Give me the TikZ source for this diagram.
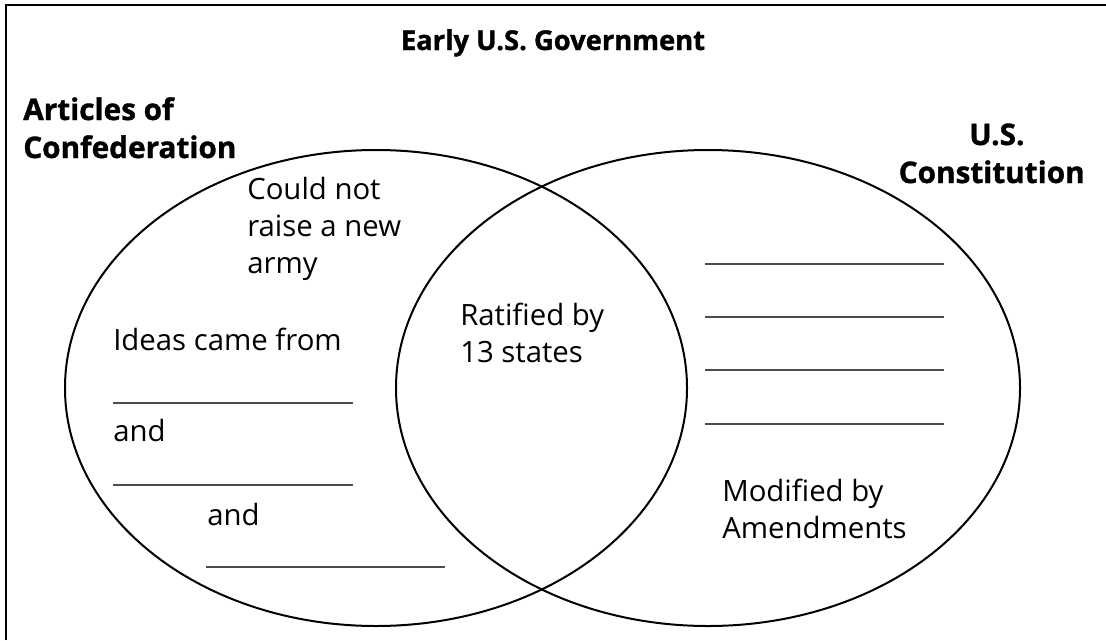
\documentclass[tikz,border=0pt]{standalone}
\usepackage{fontspec}
\setmainfont{Open Sans}
\newfontfamily\headfont{Open Sans}[BoldFeatures={FakeBold=1.2}]
\usetikzlibrary{positioning}

\begin{document}
\begin{tikzpicture}[x=0.75pt,y=-0.75pt,
    txt/.style={font=\fontsize{22}{27.75}\selectfont, inner sep=0pt, align=left, anchor=base west},
    head/.style={font=\fontsize{22.3}{28.5}\selectfont\headfont\bfseries, inner sep=0pt, align=left, anchor=base west},
    blank/.style={black!70, line width=1.5pt}]
    \useasboundingbox (0,0) rectangle (1106,640);

    % Frame
    \draw [line width=2.2pt] (6,640) -- (6,5) -- (1106,5);

    % Circles
    \draw [line width=1.5pt] (376,388) ellipse (311 and 238);
    \draw [line width=1.5pt] (708,388) ellipse (312 and 238);

    % Headings
    \node [head, font=\fontsize{20.5}{26}\selectfont\headfont\bfseries, anchor=base] (title) at (553,50) {Early U.S. Government};
    \node [head] (aoc) at (23,158) {Articles of\\Confederation};
    \node [head] (us) at (969,145) {U.S.};
    \node [head, anchor=base east] (const) at (1085,183) {Constitution};

    % Articles side
    \node [txt] (army) at (247,273) {Could not\\raise a new\\army};
    \node [txt] (ideas) at (113,350) {Ideas came from};
    \coordinate (b1l) at (113,403); \coordinate (b1r) at (353,403);
    \draw [blank] (b1l) -- (b1r);
    \node [txt] (and1) at (113,441) {and};
    \coordinate (b2l) at (113,485); \coordinate (b2r) at (353,485);
    \draw [blank] (b2l) -- (b2r);
    \node [txt] (and2) at (207,525) {and};
    \coordinate (b3l) at (206,567); \coordinate (b3r) at (445,567);
    \draw [blank] (b3l) -- (b3r);

    % Both
    \node [txt] (ratified) at (460,362) {Ratified by\\13 states};

    % Constitution side
    \foreach \y [count=\i] in {264,317,370,424} {
        \coordinate (r\i l) at (705,\y); \coordinate (r\i r) at (944,\y);
        \draw [blank] (r\i l) -- (r\i r);
    }
    \node [txt] (modified) at (722,538) {Modified by\\Amendments};
\end{tikzpicture}
\end{document}
